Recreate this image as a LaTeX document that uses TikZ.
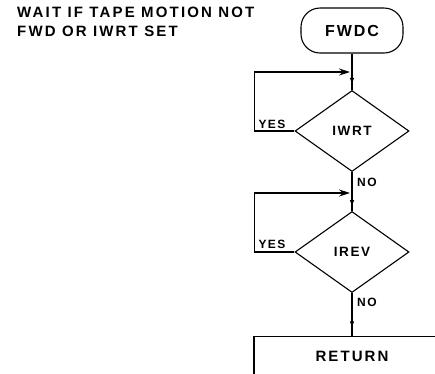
\documentclass[tikz,border=0pt]{standalone}
\usepackage{fontspec}
\setmainfont{Liberation Sans}
\usetikzlibrary{shapes.geometric,arrows.meta,decorations.markings}
\newfontfamily\wfont[LetterSpace=12]{Liberation Sans Bold}
\newfontfamily\rfont[LetterSpace=14]{Liberation Sans Bold}
\newfontfamily\nfont[LetterSpace=14.5]{Liberation Sans Bold}
\begin{document}
\begin{tikzpicture}[x=1pt,y=-1pt,
  every node/.style={font=\wfont},
  ln/.style={line width=1.1pt,black},
  term/.style={draw,ln,rounded corners=19pt,minimum width=102pt,minimum height=45pt,inner sep=0pt,font=\wfont\fontsize{16}{16}\selectfont},
  dec/.style={draw,ln,diamond,minimum width=114pt,minimum height=81pt,inner sep=0pt,font=\wfont\fontsize{13.5}{13.5}\selectfont},
  retbox/.style={draw,ln,minimum width=196pt,minimum height=40pt,inner sep=0pt,font=\rfont\fontsize{15}{15}\selectfont},
  lbl/.style={inner sep=0pt,font=\wfont\fontsize{12}{12}\selectfont},
  loopline/.style={ln,-{Stealth[length=11pt,width=7pt]},shorten >=2pt},
  midarrow/.style={ln,postaction={decorate},decoration={markings,mark=at position #1 with {\arrow{Latex[length=7pt,width=4.5pt]}}}}
]
\useasboundingbox[fill=white] (0,0) rectangle (435,373);
\node[anchor=base west,inner sep=0pt,align=left,font=\nfont\fontsize{15}{19}\selectfont] (note) at (17,36) {WAIT IF TAPE MOTION NOT\\FWD OR IWRT SET};
\node[term] (fwdc) at (352,30.5) {FWDC};
\node[dec] (d1) at (352,131) {IWRT};
\node[dec] (d2) at (352,252) {IREV};
\node[retbox,anchor=north] (ret) at (352,336) {RETURN};
\coordinate (j1) at (352,72);
\coordinate (j2) at (352,193);
\draw[midarrow=0.86] (fwdc.south) -- (d1.north);
\draw[midarrow=0.9] (d1.south) -- (d2.north);
\draw[midarrow=0.82] (d2.south) -- (ret.north);
\draw[loopline] (d1.west) -- ++(-40,0) |- (j1);
\draw[loopline] (d2.west) -- ++(-40,0) |- (j2);
\node[lbl] (yes1) at (272,124) {YES};
\node[lbl] (yes2) at (272,244) {YES};
\node[lbl,anchor=west] (no1) at (357,182) {NO};
\node[lbl,anchor=west] (no2) at (357,302) {NO};
\end{tikzpicture}
\end{document}
